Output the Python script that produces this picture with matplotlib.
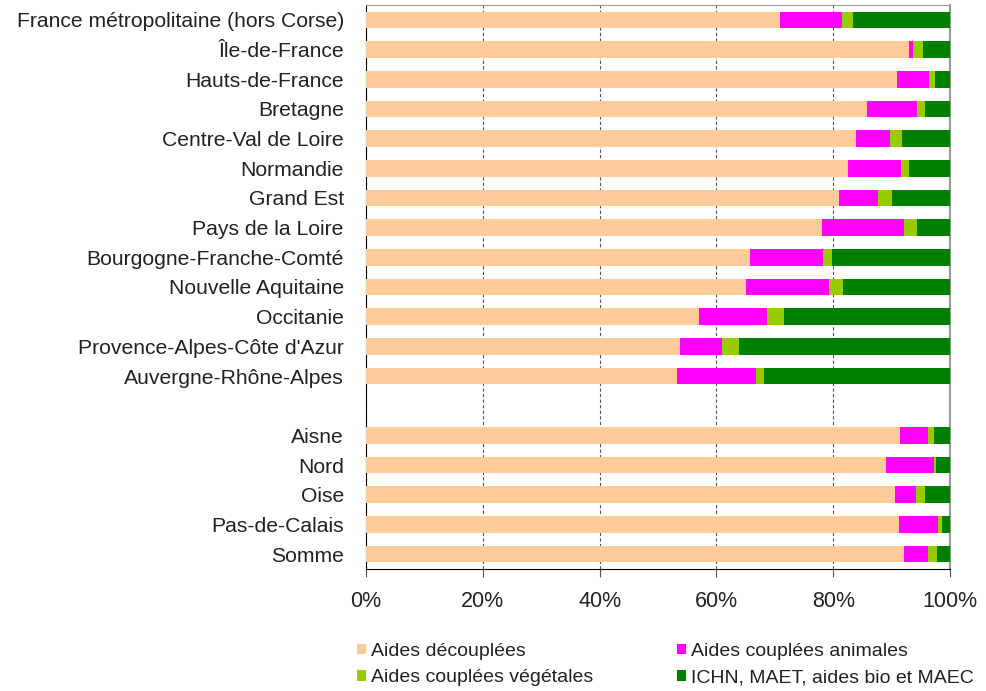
import matplotlib as mpl
mpl.use('Agg')
import matplotlib.pyplot as plt
import numpy as np

plt.rcParams['font.family'] = ['Liberation Sans', 'DejaVu Sans']

# regions then departments (empty label = gap row)
labels = [
    'France métropolitaine (hors Corse)', 'Île-de-France', 'Hauts-de-France',
    'Bretagne', 'Centre-Val de Loire', 'Normandie', 'Grand Est',
    'Pays de la Loire', 'Bourgogne-Franche-Comté', 'Nouvelle Aquitaine',
    'Occitanie', "Provence-Alpes-Côte d'Azur", 'Auvergne-Rhône-Alpes',
    '', 'Aisne', 'Nord', 'Oise', 'Pas-de-Calais', 'Somme',
]
decouplees = [70.9, 92.9, 91.0, 85.8, 83.9, 82.5, 81.0, 78.1, 65.8, 65.1, 57.0, 53.8, 53.3,
              0, 91.4, 89.0, 90.6, 91.2, 92.2]
animales = [10.6, 0.7, 5.4, 8.5, 5.9, 9.1, 6.7, 14.0, 12.5, 14.1, 11.7, 7.2, 13.5,
            0, 4.8, 8.3, 3.5, 6.8, 4.0]
vegetales = [1.9, 1.7, 1.0, 1.4, 1.9, 1.4, 2.3, 2.2, 1.5, 2.5, 2.9, 2.8, 1.3,
             0, 1.0, 0.3, 1.6, 0.6, 1.5]
ichn = [16.6, 4.7, 2.6, 4.3, 8.3, 7.0, 10.0, 5.7, 20.2, 18.3, 28.4, 36.2, 31.9,
        0, 2.8, 2.4, 4.3, 1.4, 2.3]

series = [
    ('Aides découplées', decouplees, '#ffcc99'),
    ('Aides couplées animales', animales, '#ff00ff'),
    ('Aides couplées végétales', vegetales, '#99cc00'),
    ('ICHN, MAET, aides bio et MAEC', ichn, '#008000'),
]

fig = plt.figure(figsize=(9.87, 6.91), dpi=100)
ax = fig.add_axes([366 / 987, 1 - 569 / 691, 584 / 987, 564 / 691])

y = np.arange(len(labels))
left = np.zeros(len(labels))
handles = []
for name, vals, col in series:
    vals = np.array(vals, dtype=float)
    b = ax.barh(y, vals, left=left, height=0.56, color=col, label=name, zorder=3)
    handles.append(b)
    left += vals

ax.set_xlim(0, 100)
ax.set_ylim(18.5, -0.5)
ax.set_yticks(y)
ax.set_yticklabels(labels, fontsize=15.2, color='#222222')
ax.tick_params(axis='y', length=0, pad=16)
ax.set_xticks(np.arange(0, 101, 20))
ax.set_xticklabels([f'{v}%' for v in range(0, 101, 20)], fontsize=15.5, color='#222222')
ax.tick_params(axis='x', length=6, color='#555555', pad=10)
ax.grid(axis='x', linestyle=(0, (3, 2)), color='#555555', linewidth=0.8, zorder=0)

ax.spines['left'].set_color('black')
ax.spines['bottom'].set_color('black')
ax.spines['top'].set_color('#999999')
ax.spines['right'].set_color('#999999')
ax.spines['right'].set_linewidth(1.5)

# legend: two columns, same order as the reference
leg = fig.legend(
    handles=[handles[0], handles[2], handles[1], handles[3]],
    labels=[series[0][0], series[2][0], series[1][0], series[3][0]],
    ncol=2, loc='upper left', bbox_to_anchor=(357 / 987, 1 - 643 / 691),
    frameon=False, fontsize=14, handlelength=0.45, handleheight=0.45,
    handletextpad=0.25, columnspacing=4.35, labelspacing=0.48,
    borderaxespad=0, borderpad=0,
)
for t in leg.get_texts():
    t.set_color('#222222')

fig.savefig('out.png', dpi=100)
